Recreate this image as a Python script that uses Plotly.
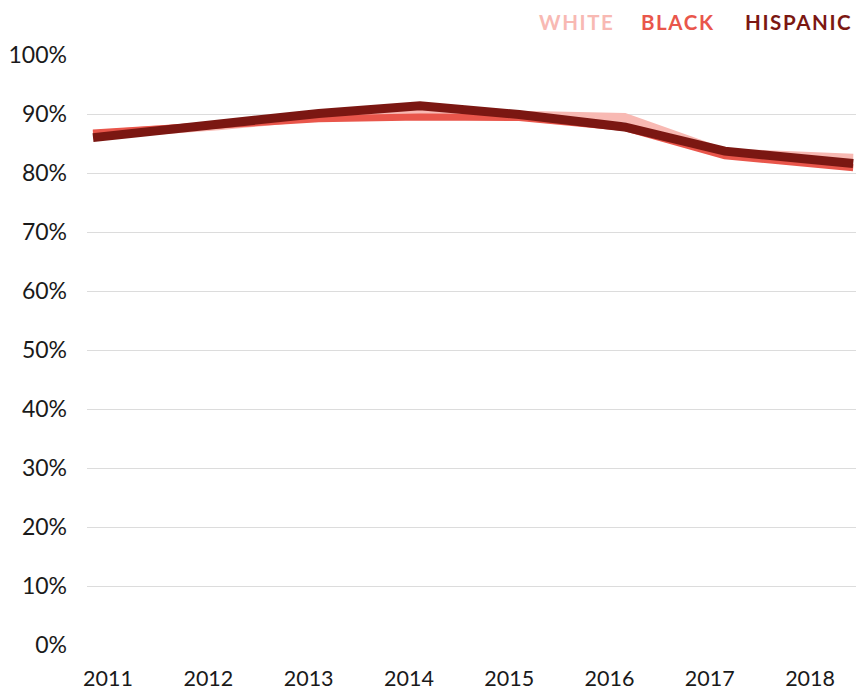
import plotly.graph_objects as go

# Data (share, %)
years = [2011, 2012, 2013, 2014, 2015, 2016, 2017, 2018]
obs_x = [2010.85, 2012.1, 2013.1, 2014.11, 2015.1, 2016.15, 2017.15, 2018.43]
white = [86.5, 88.0, 89.6, 90.6, 89.8, 89.4, 83.4, 82.5]
black = [86.8, 88.0, 89.2, 89.5, 89.4, 87.7, 82.9, 80.9]
hispanic = [86.0, 88.2, 90.1, 91.4, 89.9, 87.8, 83.7, 81.6]
y_ticks = [0, 10, 20, 30, 40, 50, 60, 70, 80, 90, 100]
y_labels = [f"{v}%" for v in y_ticks]

c_white = "#f8b9b3"
c_black = "#e9564b"
c_hisp = "#7b1712"

fig = go.Figure()
fig.add_trace(go.Scatter(x=obs_x, y=white, mode="lines",
                         line=dict(color=c_white, width=9), hoverinfo="skip"))
fig.add_trace(go.Scatter(x=obs_x, y=black, mode="lines",
                         line=dict(color=c_black, width=7), hoverinfo="skip"))
fig.add_trace(go.Scatter(x=obs_x, y=hispanic, mode="lines",
                         line=dict(color=c_hisp, width=9), hoverinfo="skip"))

font_fam = "Lato, Noto Sans, sans-serif"
fig.update_layout(
    width=856, height=692,
    margin=dict(l=87, r=0, t=55, b=47),
    paper_bgcolor="white", plot_bgcolor="white",
    showlegend=False,
    font=dict(family=font_fam, size=21, color="#1a1a1a"),
    xaxis=dict(range=[2010.79, 2018.458], tickvals=years, ticktext=[str(y) for y in years],
               showgrid=False, zeroline=False, showline=False, ticks="",
               ticklabelstandoff=18, tickfont=dict(size=21.5)),
    yaxis=dict(range=[0, 100], tickvals=y_ticks, ticktext=y_labels,
               showgrid=True, gridcolor="#dcdcdc", gridwidth=1, zeroline=False,
               showline=False, ticks="", ticklabelstandoff=19, tickfont=dict(size=23)),
)

leg = [("WHITE", c_white, 0.637), ("BLACK", c_black, 0.7685), ("HISPANIC", c_hisp, 0.9246)]
for txt, col, xp in leg:
    fig.add_annotation(text=f"<span style='letter-spacing:1.6px'><b>{txt}</b></span>",
                       x=xp, y=1.056, xref="paper", yref="paper",
                       xanchor="center", yanchor="middle", showarrow=False,
                       font=dict(family=font_fam, size=20.5, color=col, weight=900))

fig.write_html("out.html", config={"displayModeBar": False, "staticPlot": True},
               post_script="document.body.style.margin='0';document.body.style.overflow='hidden';")
